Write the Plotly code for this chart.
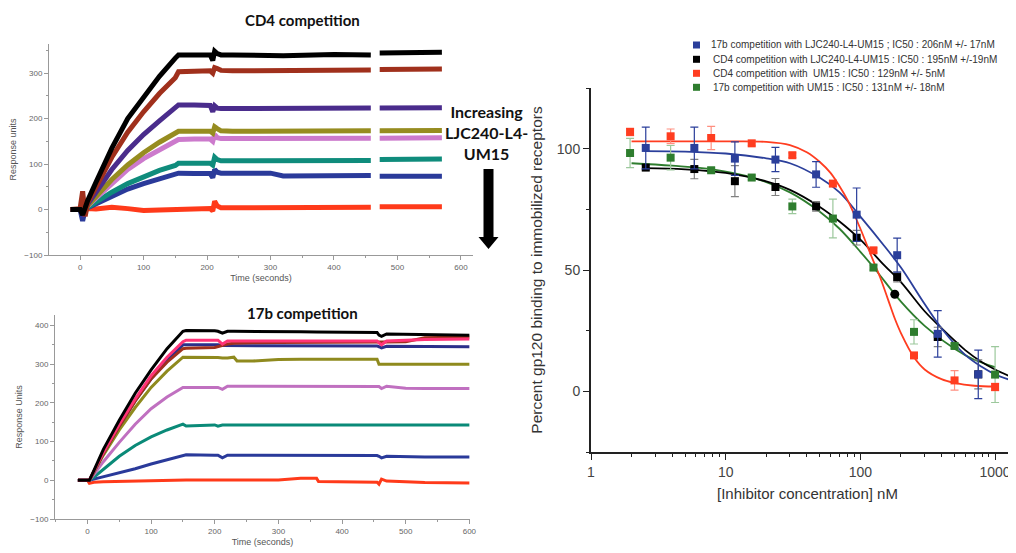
import plotly.graph_objects as go

W, H = 1016, 553
OFF = 8  # the page body margin shifts the figure by 8 px

# ---------------- CD4 competition (top-left) ----------------
cd4_time = [-15, -5, 0, 4, 8, 12, 25, 50, 75, 100, 125, 150,
            155, 180, 205, 209, 212, 216, 222, 240, 300, 320, 400, 458, 465, 472, 520, 570]
cd4_black = [0, 0, 0, -12, 5, 20, 60, 135, 200, 248, 293, 333,
             340, 340, 340, 328, 348, 343, 340, 340, 339, 338, 341, 340, None, 344, 345, 346]
cd4_brown = [0, 0, 2, 40, -15, 15, 50, 115, 170, 215, 255, 290,
             303, 304, 305, 300, 312, 310, 306, 305, 305, 306, 307, 307, None, 308, 309, 309]
cd4_purple = [0, 0, 0, -8, 3, 12, 38, 88, 130, 165, 195, 222,
              230, 230, 229, 215, 228, 223, 222, 222, 222, 222, 223, 223, None, 223, 224, 224]
cd4_olive = [0, 0, 0, 5, -5, 9, 28, 66, 98, 125, 148, 168,
             172, 172, 172, 168, 182, 178, 173, 172, 172, 173, 173, 173, None, 173, 174, 174]
cd4_pink = [0, 0, 0, -5, 4, 8, 25, 58, 88, 112, 132, 150,
            154, 155, 155, 150, 165, 158, 156, 156, 156, 156, 157, 157, None, 157, 158, 158]
cd4_teal = [0, 0, 0, 12, 2, 5, 17, 38, 57, 72, 86, 97,
            102, 102, 102, 98, 115, 110, 107, 107, 107, 107, 108, 108, None, 110, 110, 111]
cd4_blue = [0, 0, 0, -25, 0, 4, 13, 30, 45, 57, 68, 77,
            80, 79, 79, 70, 88, 82, 80, 80, 80, 74, 75, 75, None, 73, 73, 73]
cd4_red = [0, 0, 0, -5, 0, 2, 1, 5, 2, -2, -1, 0,
           2, 2, 2, -3, 18, 8, 4, 4, 4, 4, 5, 5, None, 6, 6, 6]

# ---------------- 17b competition (bottom-left) ----------------
b17_time = [-15, -5, 0, 3, 10, 25, 50, 75, 100, 125, 150, 155, 200, 205, 212, 220,
            230, 235, 260, 300, 335, 360, 363, 455, 458, 462, 470, 500, 530, 600]
b17_black = [0, 0, 0, 0, 25, 80, 155, 225, 285, 340, 385, 387, 386, 385, 380, 385,
             385, 385, 384, 384, 384, 383, 383, 382, 375, 372, 378, 377, 376, 375]
b17_pink = [0, 0, 0, 0, 23, 72, 145, 210, 270, 318, 358, 362, 362, 362, 352, 360,
            360, 360, 360, 360, 360, 360, 360, 360, 355, 350, 360, 362, 364, 365]
b17_brown = [0, 0, 0, 0, 22, 70, 140, 205, 262, 305, 340, 341, 343, 345, 348, 352,
             354, 354, 355, 356, 356, 356, 356, 356, 356, 356, 357, 358, 368, 370]
b17_navy = [0, 0, 0, 0, 22, 70, 140, 205, 262, 310, 350, 350, 350, 350, 348, 348,
            348, 348, 348, 347, 347, 347, 347, 347, 345, 342, 346, 346, 345, 345]
b17_olive = [0, 0, 0, 0, 20, 65, 130, 188, 240, 282, 318, 318, 317, 317, 316, 316,
             318, 308, 308, 312, 313, 313, 313, 313, 300, 300, 300, 300, 300, 300]
b17_orchid = [0, 0, 0, 0, 15, 48, 98, 145, 185, 215, 240, 240, 240, 240, 235, 243,
              243, 243, 243, 243, 243, 243, 243, 243, 242, 237, 243, 238, 237, 237]
b17_teal = [0, 0, 0, 0, 8, 28, 62, 90, 112, 130, 145, 140, 143, 140, 143, 143,
            143, 143, 143, 143, 143, 143, 143, 143, 143, 143, 143, 143, 143, 143]
b17_blue = [0, 0, 0, 0, 3, 9, 20, 30, 42, 53, 65, 66, 65, 65, 58, 65,
            65, 65, 65, 65, 65, 65, 65, 64, 62, 58, 62, 61, 60, 60]
b17_red = [0, 0, 0, -8, -5, -4, -3, -2, -1, 0, 1, 1, 1, 1, 1, 1,
           1, 1, 1, 1, 5, 5, -3, -5, -10, 3, -2, -4, -6, -7]

# ---------------- Dose-response (right) ----------------
conc_a = [1.95, 3.9, 7.8, 15.6, 31.25, 62.5, 125, 250, 500, 1000]      # red / green
conc_b = [2.55, 5.85, 11.7, 23.4, 46.9, 93.8, 187.5, 375, 750, 1500]   # blue / black

blue_y = [100.3, 100.3, 95.9, 95.5, 89.4, 72.8, 56.1, 23.7, 7, 5]
blue_err = [8.6, 8.6, 6.9, 5, 5.3, 11, 7, 9.6, 10, 7]
black_y = [92.2, 91.6, 86.6, 84.2, 76.2, 63.3, 47.1, 22.4, 7, 4.9]
black_err = [1, 4, 6.4, 3.5, 2, 3, 2, 4, 6, 2]
red_y = [106.9, 105.1, 104.4, 102.2, 97.3, 85.6, 58.1, 14.8, 4.5, 1.8]
red_err = [1.5, 3, 4.8, 1, 1, 1, 1, 1, 4, 1.5]
green_y = [98.2, 96.3, 91.1, 88.1, 76.2, 71.2, 51, 24.5, 18.7, 6.9]
green_err = [6, 5, 1, 1, 3, 8, 1, 5, 1, 11.5]
extra_black_x = [180]
extra_black_y = [40]

fit_red_x = [2, 5, 10, 20, 30, 40, 50, 60, 70, 80, 100, 120, 140, 160, 180, 200, 250, 300, 400, 500, 700, 1000]
fit_red_y = [103, 103, 103, 102.8, 101.5, 98.5, 94.5, 90, 84.5, 79, 67, 56, 47, 38, 30, 24, 14, 9, 5, 3.5, 2.3, 2]
fit_blue_x = [2.5, 5, 10, 20, 30, 50, 70, 100, 150, 200, 300, 400, 600, 800, 1000, 1500]
fit_blue_y = [99, 98.8, 98, 96, 94, 88, 82, 72, 60, 51, 36, 26, 15, 10, 7, 3.5]
fit_black_x = [2.5, 5, 10, 20, 30, 50, 70, 100, 150, 200, 300, 400, 600, 800, 1000, 1500]
fit_black_y = [92, 91.5, 90, 86.5, 83, 76, 70, 62.5, 52, 45, 33, 26, 17, 12, 9, 4.5]
fit_green_x = [2, 4, 8, 16, 30, 50, 70, 100, 130, 200, 300, 500, 700, 1000]
fit_green_y = [94, 93, 91.5, 88, 82, 74, 67, 57.5, 50, 37, 27, 17.5, 13, 10]

legend_labels = [
    "17b competition with LJC240-L4-UM15 ; IC50 : 206nM +/- 17nM",
    "CD4 competition with LJC240-L4-UM15 : IC50 : 195nM +/-19nM",
    "CD4 competition with  UM15 : IC50 : 129nM +/- 5nM",
    "17b competition with UM15 : IC50 : 131nM +/- 18nM",
]
legend_colors = ["#2b3f9b", "#000000", "#ff3d20", "#2e7d2e"]

x_ticks_time = [0, 100, 200, 300, 400, 500, 600]
y_ticks_cd4 = [-100, 0, 100, 200, 300]
y_ticks_17b = [-100, 0, 100, 200, 300, 400]
x_ticks_conc = [1, 10, 100, 1000]
x_ticktext_conc = ["1", "10", "100", "1000"]
x_minor_conc = [2, 3, 4, 5, 6, 7, 8, 9, 20, 30, 40, 50, 60, 70, 80, 90, 200, 300, 400, 500, 600, 700, 800, 900]
y_ticks_pct = [0, 50, 100]

fig = go.Figure()

cd4_series = [(cd4_red, "#ff3a1a"), (cd4_blue, "#2a3a9a"), (cd4_teal, "#0f8c7c"),
              (cd4_pink, "#cc7acc"), (cd4_olive, "#968c20"), (cd4_purple, "#4a2c8c"),
              (cd4_brown, "#a0301c"), (cd4_black, "#000000")]
for ys, c in cd4_series:
    fig.add_trace(go.Scatter(x=cd4_time, y=ys, mode="lines", line=dict(color=c, width=5),
                             xaxis="x", yaxis="y", connectgaps=False, hoverinfo="skip"))

b17_series = [(b17_red, "#ff3a1a"), (b17_blue, "#2a3a9a"), (b17_teal, "#0a8a78"),
              (b17_orchid, "#c070c0"), (b17_olive, "#8f8a1e"), (b17_navy, "#2b2f8a"),
              (b17_brown, "#a0301c"), (b17_pink, "#ff3377"), (b17_black, "#000000")]
for ys, c in b17_series:
    fig.add_trace(go.Scatter(x=b17_time, y=ys, mode="lines", line=dict(color=c, width=3),
                             xaxis="x2", yaxis="y2", hoverinfo="skip"))

# fitted curves
for fx, fy, c in [(fit_green_x, fit_green_y, "#2e7d2e"), (fit_black_x, fit_black_y, "#000000"),
                  (fit_blue_x, fit_blue_y, "#2b3f9b"), (fit_red_x, fit_red_y, "#ff3d20")]:
    fig.add_trace(go.Scatter(x=fx, y=fy, mode="lines", line=dict(color=c, width=1.8, shape="spline"),
                             xaxis="x3", yaxis="y3", hoverinfo="skip"))

# data points with error bars
for xs, ys, es, c, ec in [(conc_a, green_y, green_err, "#2e7d2e", "#9cc89c"),
                          (conc_b, black_y, black_err, "#000000", "#808080"),
                          (conc_b, blue_y, blue_err, "#2b3f9b", "#2b3f9b"),
                          (conc_a, red_y, red_err, "#ff3d20", "#ff8f80")]:
    fig.add_trace(go.Scatter(x=xs, y=ys, mode="markers",
                             marker=dict(symbol="square", size=8, color=c),
                             error_y=dict(type="data", array=es, color=ec, thickness=1.2, width=4),
                             xaxis="x3", yaxis="y3"))
fig.add_trace(go.Scatter(x=extra_black_x, y=extra_black_y, mode="markers",
                         marker=dict(symbol="circle", size=9, color="#000000"),
                         xaxis="x3", yaxis="y3"))


def px(x):
    return (x - OFF) / W


def py(y):
    return 1 - (y - OFF) / H


small_font = dict(family="Liberation Sans, Arial", size=8, color="#666")
left_axis_common = dict(showgrid=False, zeroline=False, showline=True, linecolor="#999", linewidth=1,
                        ticks="outside", ticklen=4, tickcolor="#999", tickfont=small_font, automargin=False)

fig.update_layout(
    width=W, height=H, margin=dict(l=0, r=0, t=0, b=0, autoexpand=False),
    paper_bgcolor="white", plot_bgcolor="white", showlegend=False,
    xaxis=dict(domain=[px(49), px(473)], range=[-49, 619], anchor="y",
               tickvals=x_ticks_time, minor=dict(dtick=50, tick0=0, ticks="outside", ticklen=2, tickcolor="#999"),
               title=dict(text="Time (seconds)", font=dict(family="Liberation Sans, Arial", size=9, color="#555"), standoff=4),
               **left_axis_common),
    yaxis=dict(domain=[py(255), py(44)], range=[-100, 364], anchor="x",
               tickvals=y_ticks_cd4, minor=dict(dtick=50, tick0=0, ticks="outside", ticklen=2, tickcolor="#999"),
               title=dict(text="Response units", font=dict(family="Liberation Sans, Arial", size=9, color="#555"), standoff=6),
               **left_axis_common),
    xaxis2=dict(domain=[px(55), px(470)], range=[-51, 601], anchor="y2",
                tickvals=x_ticks_time, minor=dict(dtick=50, tick0=0, ticks="outside", ticklen=2, tickcolor="#999"),
                title=dict(text="Time (seconds)", font=dict(family="Liberation Sans, Arial", size=9, color="#555"), standoff=4),
                **left_axis_common),
    yaxis2=dict(domain=[py(519), py(315)], range=[-100, 427], anchor="x2",
                tickvals=y_ticks_17b, minor=dict(dtick=50, tick0=0, ticks="outside", ticklen=2, tickcolor="#999"),
                title=dict(text="Response Units", font=dict(family="Liberation Sans, Arial", size=9, color="#555"), standoff=6),
                **left_axis_common),
    xaxis3=dict(domain=[px(591), 1.0], type="log", range=[0, 3.2146], anchor="y3", automargin=False,
                tickvals=x_ticks_conc, ticktext=x_ticktext_conc,
                minor=dict(tickvals=x_minor_conc, ticks="outside", ticklen=3, tickcolor="#222"),
                showgrid=False, zeroline=False, showline=True, linecolor="#222", linewidth=2,
                ticks="outside", ticklen=6, tickwidth=1.2, tickcolor="#222",
                tickfont=dict(family="Liberation Sans, Arial", size=14, color="#444"),
                title=dict(text="[Inhibitor concentration] nM",
                           font=dict(family="Liberation Sans, Arial", size=15, color="#333"), standoff=10)),
    yaxis3=dict(domain=[py(452), py(88)], range=[-25, 125], anchor="x3", automargin=False,
                tickvals=y_ticks_pct,
                minor=dict(dtick=25, tick0=0, ticks="outside", ticklen=3, tickcolor="#222"),
                showgrid=False, zeroline=False, showline=True, linecolor="#222", linewidth=2,
                ticks="outside", ticklen=6, tickwidth=1.2, tickcolor="#222",
                tickfont=dict(family="Liberation Sans, Arial", size=14, color="#444"),
                title=dict(text="Percent gp120 binding to immobilized receptors",
                           font=dict(family="Liberation Sans, Arial", size=15.5, color="#333"), standoff=10)),
)

annotations = [
    dict(text="<b>CD4 competition</b>", x=px(302), y=py(20), xref="paper", yref="paper",
         xanchor="center", yanchor="middle",
         showarrow=False, font=dict(family="Lato", size=15, color="#111")),
    dict(text="<b>17b competition</b>", x=px(302), y=py(313), xref="paper", yref="paper",
         xanchor="center", yanchor="middle",
         showarrow=False, font=dict(family="Lato", size=15, color="#111")),
    dict(text="<b>Increasing<br>LJC240-L4-<br>UM15</b>", x=px(486), y=py(132), xref="paper", yref="paper",
         xanchor="center", yanchor="middle",
         showarrow=False, align="center", font=dict(family="Lato", size=16, color="#111")),
]
shapes = []
row_y = [45, 59.3, 73.3, 87.3]
for i, (lab, col) in enumerate(zip(legend_labels, legend_colors)):
    shapes.append(dict(type="rect", xref="paper", yref="paper",
                       x0=px(693), x1=px(700), y0=py(row_y[i] + 3.5), y1=py(row_y[i] - 3.5),
                       fillcolor=col, line=dict(width=0)))
    annotations.append(dict(text=lab, x=px(709 if i == 0 else 711), y=py(row_y[i]), xref="paper", yref="paper",
                            xanchor="left", yanchor="middle", showarrow=False,
                            font=dict(family="Liberation Sans, Arial", size=10, color="#333")))

# down arrow
arrow_path = "M {a},{b} L {c},{b} L {c},{d} L {e},{d} L {f},{g} L {h},{d} L {a2},{d} Z".format(
    a=px(483.5), b=py(169), c=px(493.5), d=py(237), e=px(498.5), f=px(488.5), g=py(249),
    h=px(478.5), a2=px(483.5))
shapes.append(dict(type="path", path=arrow_path, xref="paper", yref="paper",
                   fillcolor="#000", line=dict(width=0)))

fig.update_layout(annotations=annotations, shapes=shapes)
fig.write_html("out.html")
